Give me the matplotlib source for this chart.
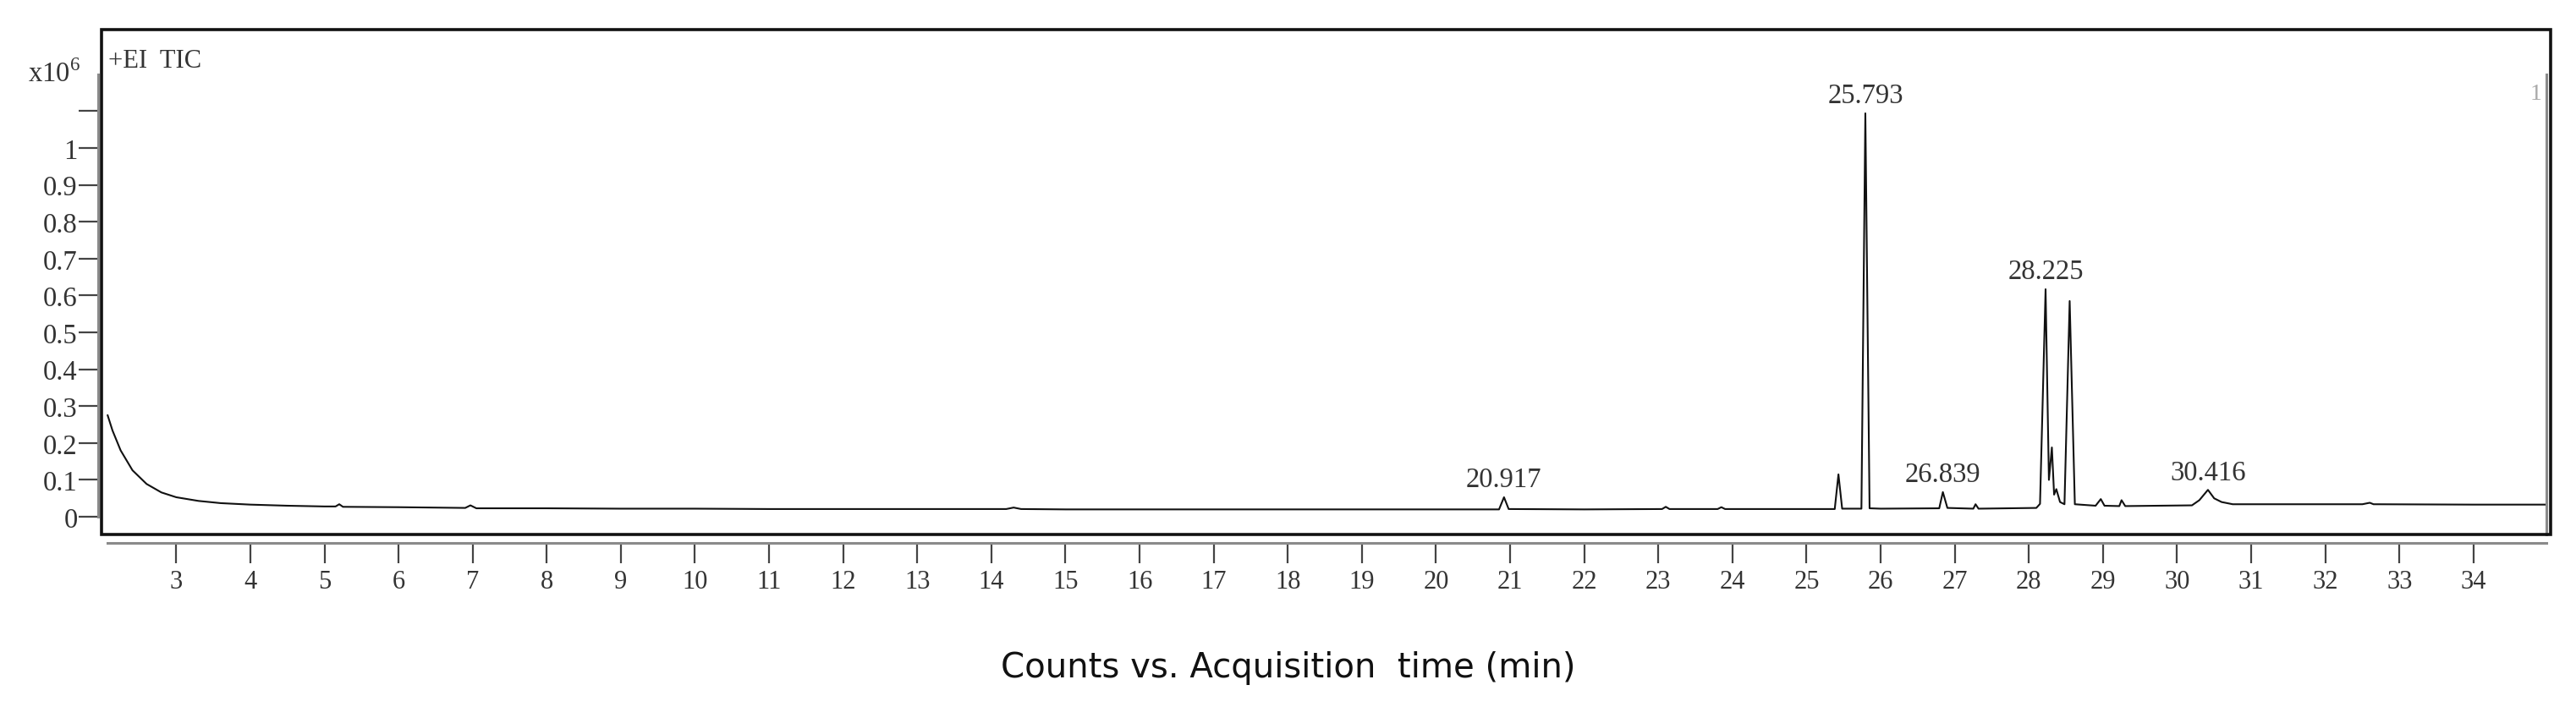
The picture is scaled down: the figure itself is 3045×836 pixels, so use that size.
import matplotlib
matplotlib.use("Agg")
import matplotlib.pyplot as plt
from matplotlib.patches import Rectangle

plt.rcParams['mathtext.fontset'] = 'custom'
plt.rcParams['mathtext.rm'] = 'Liberation Serif'

# chromatogram trace (time in min, counts in 1e6)
time_min = [2.075, 2.14, 2.25, 2.41, 2.60, 2.80, 3.00, 3.30, 3.60, 4.00,
            4.50, 5.00, 5.15, 5.20, 5.25, 6.00, 6.90, 6.97, 7.05, 8.00,
            9.00, 10.00, 11.00, 12.00, 13.00, 14.20, 14.30, 14.40, 15.00, 16.00,
            17.00, 18.00, 19.00, 20.00, 20.85, 20.917, 20.98, 22.00, 23.05, 23.10,
            23.15, 23.80, 23.85, 23.90, 25.00, 25.38, 25.43, 25.48, 25.74, 25.793,
            25.85, 26.00, 26.79, 26.839, 26.90, 27.25, 27.28, 27.32, 28.10, 28.15,
            28.225, 28.27, 28.31, 28.34, 28.37, 28.42, 28.48, 28.55, 28.62, 28.90,
            28.97, 29.02, 29.22, 29.25, 29.30, 30.20, 30.30, 30.416, 30.50, 30.60,
            30.75, 31.00, 32.50, 32.60, 32.65, 34.00, 34.98]
counts = [0.275, 0.234, 0.180, 0.126, 0.089, 0.066, 0.053, 0.043, 0.037, 0.033,
          0.030, 0.028, 0.028, 0.034, 0.027, 0.026, 0.024, 0.031, 0.023, 0.023,
          0.022, 0.022, 0.021, 0.021, 0.021, 0.021, 0.025, 0.021, 0.020, 0.020,
          0.020, 0.020, 0.020, 0.020, 0.020, 0.053, 0.021, 0.020, 0.021, 0.027,
          0.021, 0.021, 0.026, 0.021, 0.021, 0.021, 0.115, 0.022, 0.022, 1.094,
          0.023, 0.022, 0.023, 0.067, 0.024, 0.022, 0.034, 0.022, 0.024, 0.035,
          0.617, 0.100, 0.188, 0.060, 0.075, 0.040, 0.034, 0.585, 0.034, 0.030,
          0.048, 0.030, 0.029, 0.045, 0.029, 0.031, 0.045, 0.073, 0.050, 0.040,
          0.034, 0.034, 0.034, 0.038, 0.034, 0.033, 0.033]

peak_labels = ["20.917", "25.793", "26.839", "28.225", "30.416"]

x_ticks = list(range(3, 35))
y_ticks = [0, 0.1, 0.2, 0.3, 0.4, 0.5, 0.6, 0.7, 0.8, 0.9, 1.0, 1.1]
y_ticklabels = ["0", "0.1", "0.2", "0.3", "0.4", "0.5", "0.6", "0.7", "0.8", "0.9", "1", ""]

W, H = 3045, 837
fig = plt.figure(figsize=(W / 100, H / 100), dpi=100)
ax = fig.add_axes([120 / W, 1 - 633 / H, (3015 - 120) / W, (633 - 36) / H])

ax.plot(time_min, counts, color='#111111', lw=1.5)

serif = 'Liberation Serif'
for lab in peak_labels:
    t = float(lab)
    h = counts[time_min.index(t)]
    ax.annotate(lab, (t, h), xytext=(0, 4), textcoords='offset points',
                ha='center', va='bottom', fontsize=23.5, family=serif, color='#333333')

ax.set_xlim(1.992, 35.04)
ax.set_ylim(-0.048, 1.321)

# frame
ax.add_patch(Rectangle((0, 0), 1, 1, transform=ax.transAxes, fill=False,
                       lw=2.6, edgecolor='#111111', clip_on=False, zorder=5))

ax.spines['top'].set_visible(False)
ax.spines['left'].set_position(('outward', 3))
ax.spines['left'].set_bounds(0, 1.2)
ax.spines['bottom'].set_position(('outward', 7.5))
ax.spines['bottom'].set_bounds(2.075, 34.98)
ax.spines['right'].set_position(('data', 34.98))
ax.spines['right'].set_bounds(-0.048, 1.2)
for s in ['left', 'bottom', 'right']:
    ax.spines[s].set_color('#8a8a8a')
    ax.spines[s].set_linewidth(2.2)

ax.set_xticks(x_ticks)
ax.set_xticklabels([str(v) for v in x_ticks])
ax.set_yticks(y_ticks)
ax.set_yticklabels(y_ticklabels)
ax.tick_params(axis='both', direction='out', colors='#444444', width=1.6,
               labelsize=22, labelcolor='#333333')
ax.tick_params(axis='y', length=16.5, pad=1, labelsize=23.5)
ax.tick_params(axis='x', length=17, pad=5)
for lbl in ax.get_xticklabels() + ax.get_yticklabels():
    lbl.set_family(serif)

fig.text(95 / W, 1 - 97 / H, r'x10$^{\mathrm{6}}$', ha='right', va='baseline',
         fontsize=23.5, family=serif, color='#333333')
fig.text(128 / W, 1 - 80 / H, '+EI  TIC', ha='left', va='baseline',
         fontsize=22, family=serif, color='#333333')
fig.text(2998 / W, 1 - 118 / H, '1', ha='center', va='baseline',
         fontsize=20, family=serif, color='#aaaaaa')

fig.text(0.5, 1 - 790 / H, 'Counts vs. Acquisition  time (min)', ha='center', va='center',
         fontsize=29, family='DejaVu Sans', color='#111111')

fig.savefig('out.png', dpi=100)
